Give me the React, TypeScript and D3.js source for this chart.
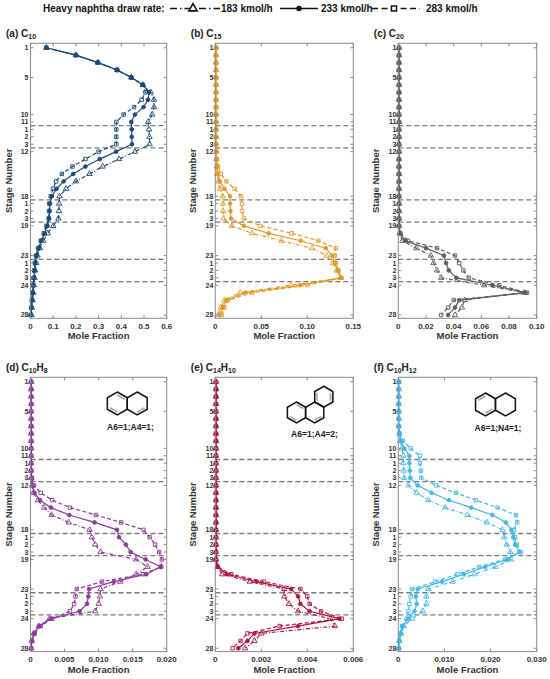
import * as d3 from 'd3';

// vertical positions: 28 column stages + 3 side-stripper groups of 3 stages
const stagePos = d3.range(37);
const yTickPos = [0, 4, 9, 10, 11, 12, 13, 14, 20, 21, 22, 23, 24, 28, 29, 30, 31, 32, 36];
const yTickLabels = ['1', '5', '10', '11', '1', '2', '3', '12', '18', '1', '2', '3', '19', '23', '1', '2', '3', '24', '28'];
const stripperBounds = [10.5, 13.5, 20.5, 23.5, 28.5, 31.5];

// (a) C10
const c10Low = [0.07, 0.2, 0.297, 0.382, 0.444, 0.495, 0.53, 0.544, 0.544, 0.536, 0.518, 0.522, 0.524, 0.525, 0.46, 0.39, 0.318, 0.26, 0.2, 0.157, 0.128, 0.126, 0.125, 0.123, 0.1, 0.076, 0.056, 0.041, 0.031, 0.025, 0.021, 0.018, 0.015, 0.012, 0.009, 0.006, 0.004];
const c10Mid = [0.07, 0.2, 0.297, 0.382, 0.444, 0.495, 0.522, 0.518, 0.498, 0.46, 0.444, 0.446, 0.446, 0.447, 0.377, 0.305, 0.242, 0.188, 0.146, 0.115, 0.094, 0.086, 0.084, 0.082, 0.075, 0.062, 0.048, 0.036, 0.026, 0.021, 0.018, 0.015, 0.012, 0.01, 0.007, 0.004, 0.002];
const c10High = [0.07, 0.2, 0.297, 0.382, 0.444, 0.495, 0.506, 0.49, 0.456, 0.41, 0.378, 0.378, 0.378, 0.378, 0.3, 0.242, 0.185, 0.138, 0.113, 0.099, 0.089, 0.083, 0.082, 0.08, 0.07, 0.058, 0.045, 0.033, 0.024, 0.019, 0.016, 0.013, 0.011, 0.008, 0.006, 0.003, 0.001];

// (b) C15
const c15Low = [0.0008, 0.0008, 0.0008, 0.0008, 0.0008, 0.0008, 0.0008, 0.0008, 0.0008, 0.0008, 0.0008, 0.0008, 0.0008, 0.0008, 0.001, 0.0012, 0.0015, 0.002, 0.0035, 0.005, 0.008, 0.0083, 0.0085, 0.009, 0.018, 0.04, 0.072, 0.105, 0.121, 0.128, 0.132, 0.136, 0.082, 0.027, 0.01, 0.006, 0.003];
const c15Mid = [0.0008, 0.0008, 0.0008, 0.0008, 0.0008, 0.0008, 0.0008, 0.0008, 0.0008, 0.0008, 0.0008, 0.0008, 0.0008, 0.0008, 0.001, 0.0013, 0.0018, 0.003, 0.005, 0.01, 0.016, 0.016, 0.0165, 0.017, 0.031, 0.058, 0.093, 0.12, 0.127, 0.13, 0.133, 0.137, 0.092, 0.033, 0.012, 0.008, 0.005];
const c15High = [0.0008, 0.0008, 0.0008, 0.0008, 0.0008, 0.0008, 0.0008, 0.0008, 0.0008, 0.0008, 0.0008, 0.0008, 0.0008, 0.0008, 0.0012, 0.0018, 0.003, 0.006, 0.012, 0.021, 0.028, 0.029, 0.029, 0.031, 0.049, 0.083, 0.112, 0.131, 0.13, 0.131, 0.134, 0.137, 0.1, 0.04, 0.014, 0.01, 0.007];

// (c) C20
const c20Low = [0.0005, 0.0005, 0.0005, 0.0005, 0.0005, 0.0005, 0.0005, 0.0005, 0.0005, 0.0005, 0.0005, 0.0005, 0.0005, 0.0005, 0.0005, 0.0005, 0.0005, 0.0005, 0.0005, 0.0005, 0.0005, 0.0005, 0.0005, 0.0005, 0.0005, 0.001, 0.003, 0.013, 0.0235, 0.0255, 0.028, 0.031, 0.062, 0.091, 0.048, 0.046, 0.041];
const c20Mid = [0.0005, 0.0005, 0.0005, 0.0005, 0.0005, 0.0005, 0.0005, 0.0005, 0.0005, 0.0005, 0.0005, 0.0005, 0.0005, 0.0005, 0.0005, 0.0005, 0.0005, 0.0005, 0.0005, 0.0005, 0.0005, 0.0005, 0.0005, 0.0005, 0.0005, 0.0012, 0.005, 0.02, 0.033, 0.0345, 0.0365, 0.042, 0.068, 0.092, 0.044, 0.041, 0.036];
const c20High = [0.0005, 0.0005, 0.0005, 0.0005, 0.0005, 0.0005, 0.0005, 0.0005, 0.0005, 0.0005, 0.0005, 0.0005, 0.0005, 0.0005, 0.0005, 0.0005, 0.0005, 0.0005, 0.0005, 0.0005, 0.0005, 0.0005, 0.0005, 0.0005, 0.0005, 0.0015, 0.007, 0.028, 0.041, 0.044, 0.047, 0.051, 0.073, 0.093, 0.04, 0.036, 0.031];

// (d) C10H8
const c10h8Low = [0.0001, 0.0001, 0.0001, 0.0001, 0.0001, 0.0001, 0.0001, 0.0001, 0.0001, 0.0001, 0.0001, 0.0001, 0.0001, 0.0001, 0.0002, 0.0004, 0.0011, 0.002, 0.0031, 0.0056, 0.0087, 0.009, 0.0095, 0.0103, 0.0155, 0.0172, 0.0155, 0.0132, 0.0103, 0.0102, 0.01, 0.0095, 0.0028, 0.0012, 0.0005, 0.0002, 0.0001];
const c10h8Mid = [0.0001, 0.0001, 0.0001, 0.0001, 0.0001, 0.0001, 0.0001, 0.0001, 0.0001, 0.0001, 0.0001, 0.0001, 0.0001, 0.0002, 0.0003, 0.0006, 0.0014, 0.003, 0.0057, 0.0094, 0.0127, 0.013, 0.014, 0.0147, 0.0169, 0.0191, 0.017, 0.0122, 0.0086, 0.0085, 0.0083, 0.0072, 0.003, 0.0013, 0.0005, 0.0002, 0.0001];
const c10h8High = [0.0001, 0.0001, 0.0001, 0.0001, 0.0001, 0.0001, 0.0001, 0.0001, 0.0001, 0.0001, 0.0001, 0.0001, 0.0001, 0.0002, 0.0005, 0.0015, 0.0032, 0.0058, 0.0096, 0.0133, 0.0166, 0.0175, 0.0183, 0.0189, 0.0193, 0.0192, 0.0165, 0.0105, 0.0068, 0.0066, 0.0064, 0.0058, 0.0032, 0.0015, 0.0006, 0.0002, 0.0001];

// (e) C14H10
const c14h10Low = [0.00003, 0.00003, 0.00003, 0.00003, 0.00003, 0.00003, 0.00003, 0.00003, 0.00003, 0.00003, 0.00003, 0.00003, 0.00003, 0.00003, 0.00003, 0.00003, 0.00003, 0.00003, 0.00003, 0.00003, 0.00003, 0.00003, 0.00003, 0.00003, 0.00003, 0.0001, 0.0003, 0.0015, 0.003, 0.003, 0.0032, 0.0036, 0.005, 0.0052, 0.002, 0.0017, 0.0013];
const c14h10Mid = [0.00003, 0.00003, 0.00003, 0.00003, 0.00003, 0.00003, 0.00003, 0.00003, 0.00003, 0.00003, 0.00003, 0.00003, 0.00003, 0.00003, 0.00003, 0.00003, 0.00003, 0.00003, 0.00003, 0.00003, 0.00003, 0.00003, 0.00003, 0.00003, 0.00003, 0.0001, 0.0005, 0.0018, 0.0033, 0.0036, 0.0037, 0.0041, 0.0054, 0.0036, 0.0017, 0.0014, 0.001];
const c14h10High = [0.00003, 0.00003, 0.00003, 0.00003, 0.00003, 0.00003, 0.00003, 0.00003, 0.00003, 0.00003, 0.00003, 0.00003, 0.00003, 0.00003, 0.00003, 0.00003, 0.00003, 0.00003, 0.00003, 0.00003, 0.00003, 0.00003, 0.00003, 0.00003, 0.00003, 0.0001, 0.0007, 0.0021, 0.0037, 0.004, 0.0041, 0.0046, 0.0055, 0.0028, 0.0014, 0.0011, 0.00075];

// (f) C10H12
const c10h12Low = [0.0001, 0.0001, 0.0001, 0.0001, 0.0001, 0.0001, 0.0001, 0.0002, 0.0004, 0.0008, 0.0011, 0.0011, 0.0012, 0.0013, 0.0022, 0.004, 0.0065, 0.0102, 0.015, 0.0192, 0.0226, 0.023, 0.0235, 0.0243, 0.0245, 0.021, 0.0165, 0.0118, 0.0065, 0.0061, 0.0061, 0.0053, 0.003, 0.0012, 0.0006, 0.0002, 0.0001];
const c10h12Mid = [0.0001, 0.0001, 0.0001, 0.0001, 0.0001, 0.0001, 0.0001, 0.0003, 0.0006, 0.0013, 0.0024, 0.0024, 0.0025, 0.0026, 0.0042, 0.0072, 0.011, 0.0158, 0.0204, 0.0233, 0.0245, 0.0249, 0.0253, 0.0262, 0.0236, 0.0188, 0.0142, 0.0095, 0.0042, 0.0038, 0.004, 0.0035, 0.0022, 0.0009, 0.0005, 0.0002, 0.0001];
const c10h12High = [0.0001, 0.0001, 0.0001, 0.0001, 0.0001, 0.0001, 0.0001, 0.0003, 0.001, 0.0027, 0.0047, 0.0047, 0.0049, 0.005, 0.0082, 0.0125, 0.0168, 0.0215, 0.0255, 0.0258, 0.025, 0.0253, 0.0257, 0.0266, 0.0232, 0.0175, 0.0128, 0.008, 0.003, 0.0027, 0.0024, 0.0022, 0.0018, 0.0008, 0.0004, 0.0002, 0.0001];

const c10Ticks = ['0', '0.1', '0.2', '0.3', '0.4', '0.5', '0.6'];
const c15Ticks = ['0', '0.05', '0.10', '0.15'];
const c20Ticks = ['0', '0.02', '0.04', '0.06', '0.08', '0.10'];
const c10h8Ticks = ['0', '0.005', '0.010', '0.015', '0.020'];
const c14h10Ticks = ['0', '0.002', '0.004', '0.006'];
const c10h12Ticks = ['0', '0.010', '0.020', '0.030'];

const legendLabels = ['183 kmol/h', '233 kmol/h', '283 kmol/h'];

const FONT = "'Liberation Sans', Arial, sans-serif";
const cols = [
  [30.5, 166.7],
  [215.3, 353.3],
  [398.3, 536.7],
];
const rows = [
  [43.3, 318.3],
  [377.3, 651.6],
];

type Style = { dash: string; marker: 'tri' | 'dot' | 'sq' };
const styles: Style[] = [
  { dash: '4 1.8 1 1.8', marker: 'tri' },
  { dash: '', marker: 'dot' },
  { dash: '4 2.4', marker: 'sq' },
];

function markerPath(kind: Style['marker'], size: number) {
  const type = kind === 'tri' ? d3.symbolTriangle : kind === 'dot' ? d3.symbolCircle : d3.symbolSquare;
  return d3.symbol().type(type).size(size)() ?? '';
}

type PanelDef = {
  label: string;
  formula: [string, string][];
  color: string;
  max: number;
  ticks: string[];
  series: number[][];
  col: number;
  row: number;
};

const panels: PanelDef[] = [
  { label: '(a) ', formula: [['C', '10']], color: '#1d4a72', max: 0.6, ticks: c10Ticks, series: [c10Low, c10Mid, c10High], col: 0, row: 0 },
  { label: '(b) ', formula: [['C', '15']], color: '#e09a2c', max: 0.15, ticks: c15Ticks, series: [c15Low, c15Mid, c15High], col: 1, row: 0 },
  { label: '(c) ', formula: [['C', '20']], color: '#5e5e5e', max: 0.1, ticks: c20Ticks, series: [c20Low, c20Mid, c20High], col: 2, row: 0 },
  { label: '(d) ', formula: [['C', '10'], ['H', '8']], color: '#8c3a98', max: 0.02, ticks: c10h8Ticks, series: [c10h8Low, c10h8Mid, c10h8High], col: 0, row: 1 },
  { label: '(e) ', formula: [['C', '14'], ['H', '10']], color: '#b0173d', max: 0.006, ticks: c14h10Ticks, series: [c14h10Low, c14h10Mid, c14h10High], col: 1, row: 1 },
  { label: '(f) ', formula: [['C', '10'], ['H', '12']], color: '#43b7e6', max: 0.03, ticks: c10h12Ticks, series: [c10h12Low, c10h12Mid, c10h12High], col: 2, row: 1 },
];

function Title({ x, y, label, formula }: { x: number; y: number; label: string; formula: [string, string][] }) {
  return (
    <text x={x} y={y} fontSize={10} fill="#222">
      {label}
      {formula.map(([el, n], i) => (
        <tspan key={i}>
          <tspan dy={i === 0 ? 0 : -2.5}>{el}</tspan>
          <tspan fontSize={7} dy={2.5}>
            {n}
          </tspan>
        </tspan>
      ))}
    </text>
  );
}

function Panel({ p }: { p: PanelDef }) {
  const [left, right] = cols[p.col];
  const [top, bottom] = rows[p.row];
  const x = d3.scaleLinear().domain([0, p.max]).range([left, right]);
  const y = d3.scaleLinear().domain([-0.6, 36.45]).range([top, bottom]);
  const tickVals = p.ticks.map((t) => +t);
  const line = d3
    .line<number>()
    .x((d) => x(d))
    .y((_, i) => y(stagePos[i]));

  return (
    <g>
      <rect x={left} y={top} width={right - left} height={bottom - top} fill="white" />
      {stripperBounds.map((b) => (
        <line key={b} x1={left} x2={right} y1={y(b)} y2={y(b)} stroke="#7a7a7a" strokeWidth={1.3} strokeDasharray="5 3" />
      ))}
      {p.series.map((s, si) => (
        <g key={si}>
          <path d={line(s) ?? ''} fill="none" stroke={p.color} strokeWidth={1.2} strokeDasharray={styles[si].dash || undefined} />
          {s.map((v, i) => (
            <path
              key={i}
              d={markerPath(styles[si].marker, styles[si].marker === 'tri' ? 13 : styles[si].marker === 'dot' ? 11 : 12)}
              transform={`translate(${x(v)},${y(stagePos[i])})`}
              fill={styles[si].marker === 'dot' ? p.color : 'none'}
              stroke={p.color}
              strokeWidth={0.9}
            />
          ))}
        </g>
      ))}
      <rect x={left} y={top} width={right - left} height={bottom - top} fill="none" stroke="#8a8a8a" strokeWidth={1} />
      {yTickPos.map((t, i) => (
        <g key={i}>
          <line x1={left} x2={left + 3} y1={y(t)} y2={y(t)} stroke="#8a8a8a" />
          <line x1={right} x2={right - 3} y1={y(t)} y2={y(t)} stroke="#8a8a8a" />
          <text x={left - 2} y={y(t) + 2.5} fontSize={7} textAnchor="end" fill="#333">
            {yTickLabels[i]}
          </text>
        </g>
      ))}
      {tickVals.map((t, i) => (
        <g key={i}>
          <line x1={x(t)} x2={x(t)} y1={bottom} y2={bottom - 3} stroke="#8a8a8a" />
          <line x1={x(t)} x2={x(t)} y1={top} y2={top + 3} stroke="#8a8a8a" />
          <text x={x(t)} y={bottom + 10.5} fontSize={8} textAnchor="middle" fill="#333">
            {p.ticks[i]}
          </text>
        </g>
      ))}
      <text x={(left + right) / 2} y={bottom + 21} fontSize={9.5} textAnchor="middle" fill="#333">
        Mole Fraction
      </text>
      <text
        transform={`translate(${left - 19},${(top + bottom) / 2}) rotate(-90)`}
        fontSize={9.5}
        textAnchor="middle"
        fill="#333"
      >
        Stage Number
      </text>
      <Title x={left - 24.5} y={top - 6.5} label={p.label} formula={p.formula} />
    </g>
  );
}

type Ring = { cx: number; cy: number; inner: [number, number][] };

function Molecule({ rings, r, text, tx, ty }: { rings: Ring[]; r: number; text: string; tx: number; ty: number }) {
  const vert = (c: Ring, k: number, f = 1): [number, number] => {
    const a = ((-90 + 60 * k) * Math.PI) / 180;
    return [c.cx + r * f * Math.cos(a), c.cy + r * f * Math.sin(a)];
  };
  return (
    <g>
      {rings.map((c, i) => (
        <g key={i}>
          <polygon points={d3.range(6).map((k) => vert(c, k).join(',')).join(' ')} fill="none" stroke="#111" strokeWidth={1.5} />
          {c.inner.map(([a, b], j) => {
            const p1 = vert(c, a, 0.74);
            const p2 = vert(c, b, 0.74);
            return <line key={j} x1={p1[0]} y1={p1[1]} x2={p2[0]} y2={p2[1]} stroke="#a8a8a8" strokeWidth={1.6} />;
          })}
        </g>
      ))}
      <text x={tx} y={ty} fontSize={8.5} textAnchor="middle" fill="#222">
        {text}
      </text>
    </g>
  );
}

function Legend() {
  const cy = 8.5;
  return (
    <g fontSize={10} fill="#111">
      <text x={43} y={12}>
        Heavy naphtha draw rate:
      </text>
      <line x1={170} x2={220} y1={cy} y2={cy} stroke="#111" strokeWidth={1.5} strokeDasharray="7 3 1.5 3" />
      <path d={markerPath('tri', 30)} transform={`translate(193,${cy})`} fill="white" stroke="#111" strokeWidth={1.6} />
      <text x={221} y={12}>
        {legendLabels[0]}
      </text>
      <line x1={280} x2={318} y1={cy} y2={cy} stroke="#111" strokeWidth={1.5} />
      <path d={markerPath('dot', 24)} transform={`translate(299,${cy})`} fill="#111" />
      <text x={321} y={12}>
        {legendLabels[1]}
      </text>
      <line x1={372} x2={420} y1={cy} y2={cy} stroke="#111" strokeWidth={1.5} strokeDasharray="6 3.5" />
      <path d={markerPath('sq', 26)} transform={`translate(394,${cy})`} fill="white" stroke="#111" strokeWidth={1.5} />
      <text x={426} y={12}>
        {legendLabels[2]}
      </text>
    </g>
  );
}

export default function App() {
  const rn = 11.5;
  const rp = 10.5;
  const w = Math.sqrt(3);
  return (
    <div>
      <style>{`body{margin:0}`}</style>
      <svg width={550} height={679} style={{ display: 'block' }} fontFamily={FONT} fontWeight="bold">
        <rect width={550} height={679} fill="white" />
        <Legend />
        {panels.map((p, i) => (
          <Panel key={i} p={p} />
        ))}
        <Molecule
          r={rn}
          rings={[
            { cx: 117.3, cy: 403.5, inner: [[0, 1], [3, 4]] },
            { cx: 117.3 + w * rn, cy: 403.5, inner: [[2, 3]] },
          ]}
          text="A6=1;A4=1;"
          tx={130.5}
          ty={430}
        />
        <Molecule
          r={rp}
          rings={[
            { cx: 296.5, cy: 412.5, inner: [[0, 1], [3, 4]] },
            { cx: 296.5 + w * rp, cy: 412.5, inner: [[2, 3]] },
            { cx: 296.5 + 1.5 * w * rp, cy: 412.5 - 1.5 * rp, inner: [[4, 5], [1, 2]] },
          ]}
          text="A6=1;A4=2;"
          tx={314.5}
          ty={436.5}
        />
        <Molecule
          r={rn}
          rings={[
            { cx: 485.5, cy: 404.5, inner: [[5, 0], [2, 3]] },
            { cx: 485.5 + w * rn, cy: 404.5, inner: [] },
          ]}
          text="A6=1;N4=1;"
          tx={498}
          ty={431}
        />
      </svg>
    </div>
  );
}
